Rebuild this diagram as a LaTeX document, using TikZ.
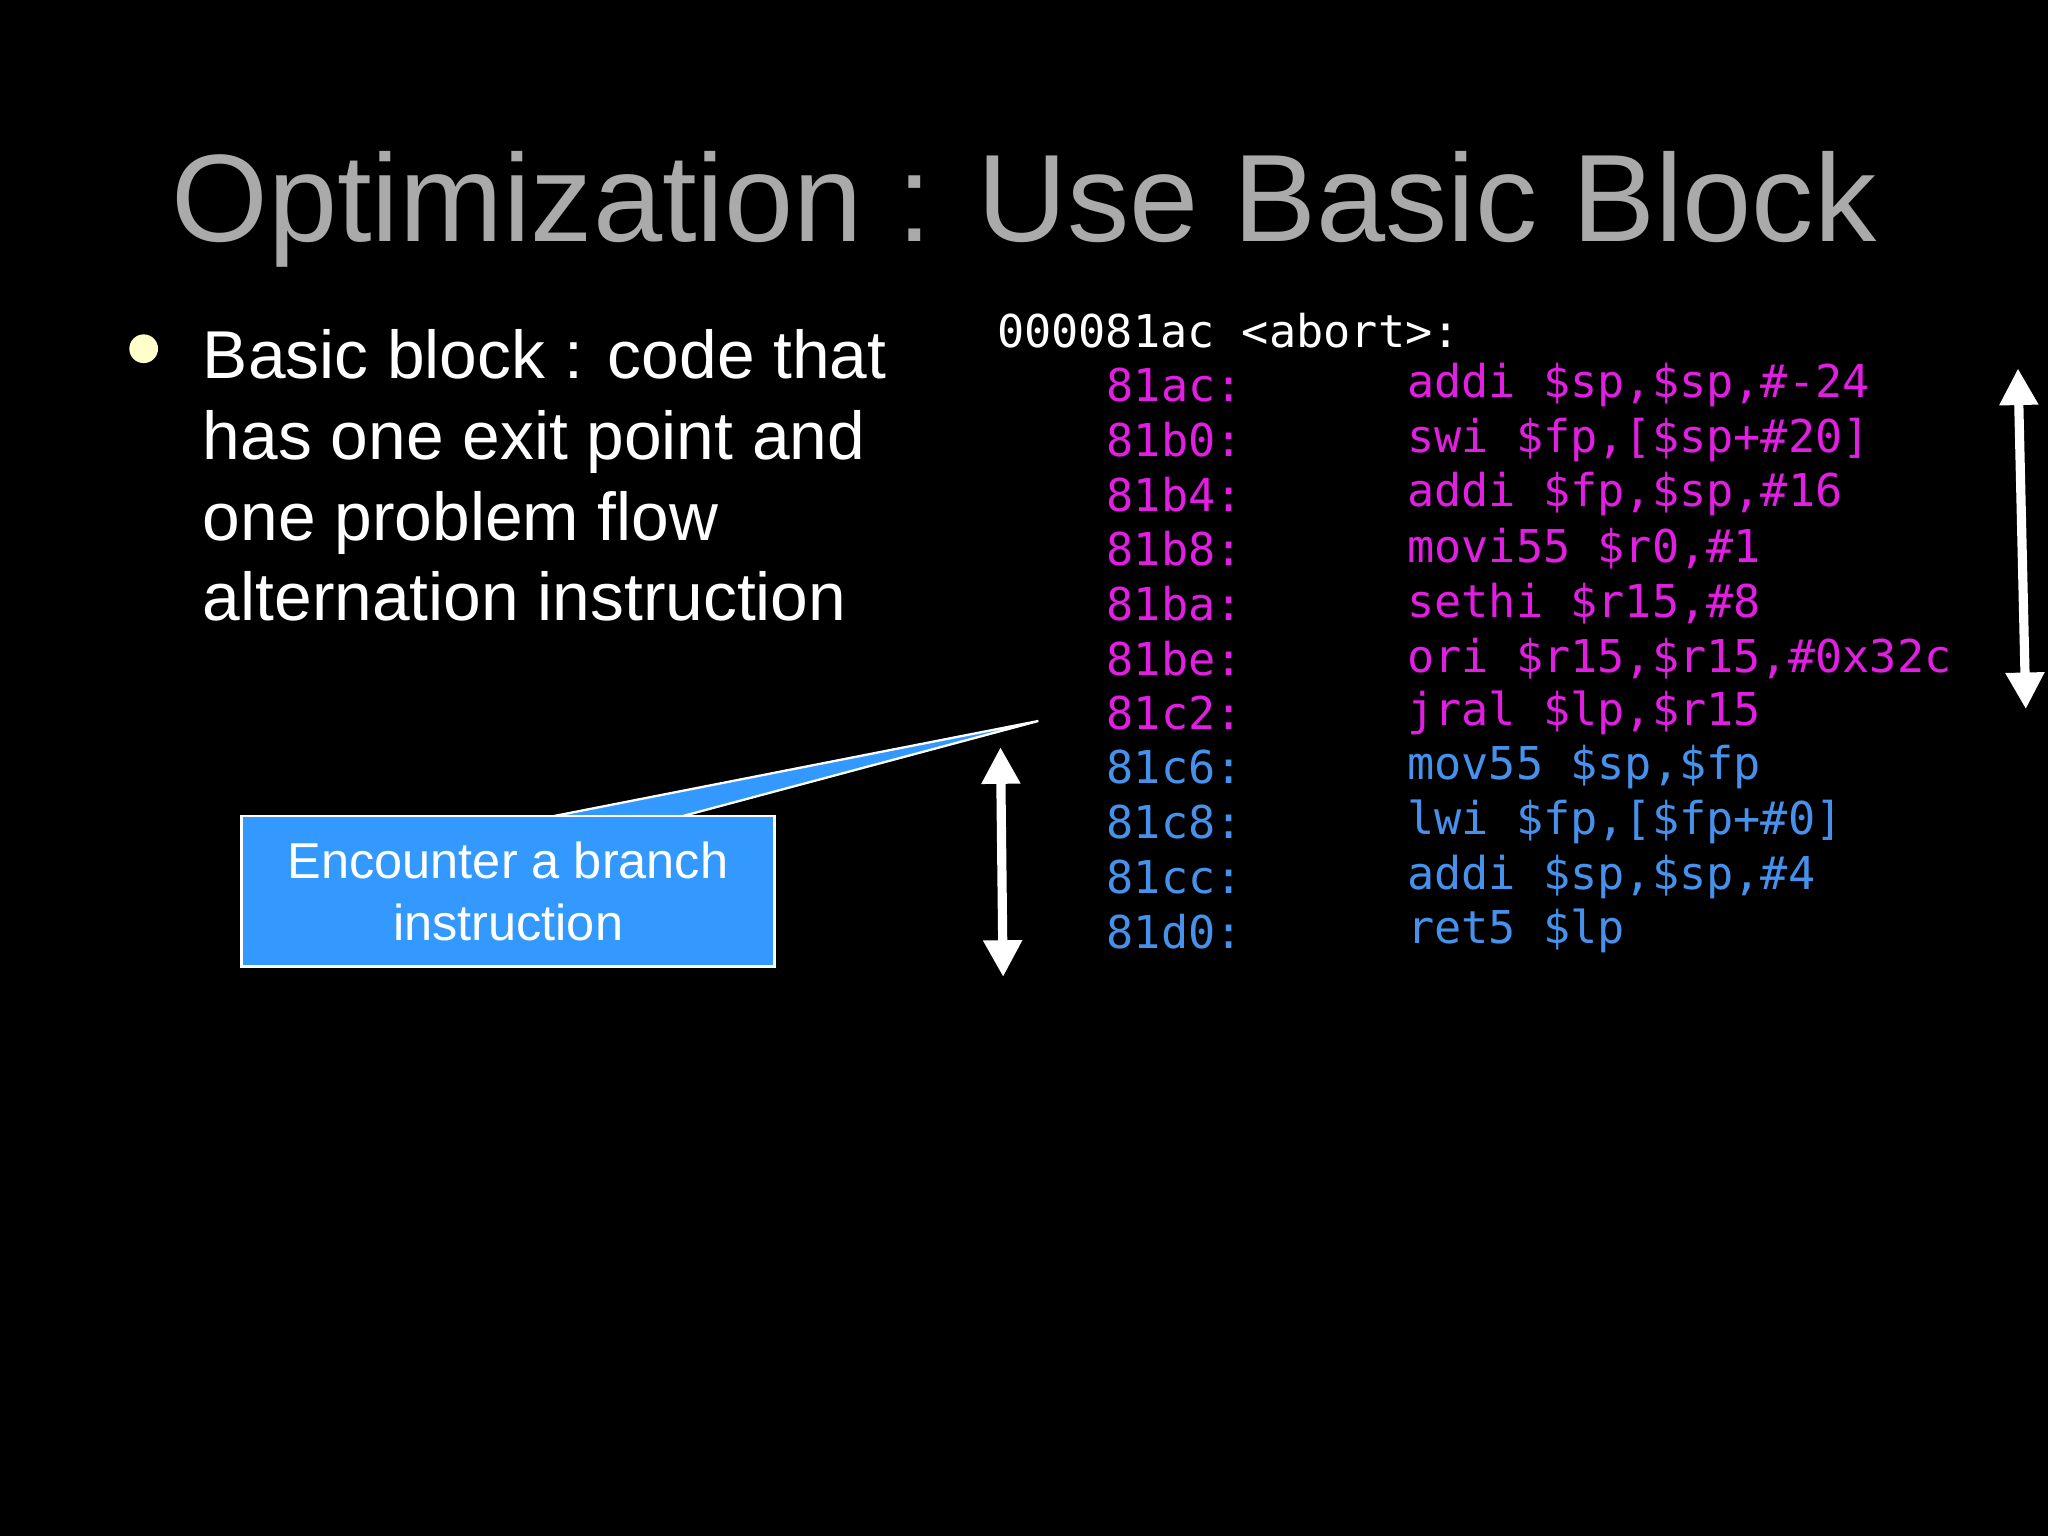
\documentclass[tikz,border=0pt]{standalone}
\usepackage{fontspec}
\setmainfont{Liberation Sans}
\setmonofont{DejaVu Sans Mono}
\usetikzlibrary{arrows.meta}
\definecolor{mag}{RGB}{225,30,225}
\definecolor{cblue}{RGB}{70,145,235}
\definecolor{boxblue}{RGB}{51,153,255}
\definecolor{titlegray}{RGB}{170,170,170}
\definecolor{bulletc}{RGB}{255,255,204}
\tikzset{
 code/.style={anchor=west,inner sep=0pt,font=\fontsize{19.7}{19.7}\selectfont\ttfamily},
 dbl/.style={white,line width=4pt,{Triangle[width=16pt,length=16pt]}-{Triangle[width=16pt,length=16pt]}}
}
\begin{document}
\begin{tikzpicture}[x=0.02cm,y=-0.02cm]
\fill[black] (0,0) rectangle (1568,1176);
\useasboundingbox (0,0) rectangle (1568,1176);
\node[titlegray,font=\fontsize{54.2}{54.2}\selectfont,anchor=base] (title) at (784,185) {Optimization : Use Basic Block};
\fill[bulletc] (110,267) circle (11);
\node[white,anchor=north west,align=left,inner sep=0pt,font=\fontsize{29.5}{35.2}\selectfont] (bullet) at (155,252) {Basic block : code that\\has one exit point and\\one problem flow\\alternation instruction};
\node[code,white] (hdr) at (763,253) {000081ac <abort>:};
\foreach \a/\b/\c [count=\i from 0] in {
 81ac:/{addi \$sp,\$sp,\#-24}/mag,
 81b0:/{swi \$fp,[\$sp+\#20]}/mag,
 81b4:/{addi \$fp,\$sp,\#16}/mag,
 81b8:/{movi55 \$r0,\#1}/mag,
 81ba:/{sethi \$r15,\#8}/mag,
 81be:/{ori \$r15,\$r15,\#0x32c}/mag,
 81c2:/{jral \$lp,\$r15}/mag,
 81c6:/{mov55 \$sp,\$fp}/cblue,
 81c8:/{lwi \$fp,[\$fp+\#0]}/cblue,
 81cc:/{addi \$sp,\$sp,\#4}/cblue,
 81d0:/{ret5 \$lp}/cblue}{
 \node[code,text=\c] (a\i) at (847,{295+41.8*\i}) {\a};
 \node[code,text=\c] (b\i) at (1077,{295+41.8*\i}) {\b};
}
\coordinate (tip) at (795,552);
\fill[boxblue,draw=white,line width=1pt] (423,625) -- (tip) -- (522,625) -- cycle;
\node[draw=white,line width=1pt,fill=boxblue,text=white,minimum width=408*0.02cm,minimum height=115*0.02cm,align=center,font=\fontsize{22}{27}\selectfont] (box) at (389,682.5) {Encounter a branch\\instruction};
\coordinate (l1) at (766,572); \coordinate (l2) at (768,748);
\coordinate (r1) at (1545,282); \coordinate (r2) at (1551,543);
\draw[dbl] (l1) -- (l2);
\draw[dbl] (r1) -- (r2);
\end{tikzpicture}
\end{document}
